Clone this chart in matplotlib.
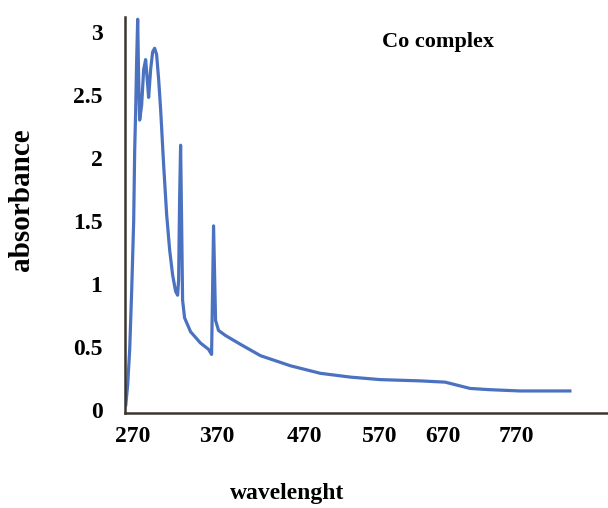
import matplotlib.pyplot as plt

# wavelength (nm) and absorbance
wl = [261, 263.5, 266.1, 268.7, 271.3, 272.6, 273.9, 275.2, 276.5, 277.8,
      279.1, 281.7, 284.3, 286.9, 289.5, 290.8, 293.4, 296.0, 298.6, 301.2,
      303.9, 306.5, 310.4, 314.3, 318.2, 322.1, 326.0, 328.6, 329.9, 331.2,
      332.5, 333.8, 335.1, 337.7, 345.5, 358.5, 369.0, 372.9, 375.5, 378.1,
      382.0, 391.1, 410.6, 436.7, 475.7, 514.8, 553.8, 592.9, 645.0, 677.5,
      710.1, 736.1, 775.2, 840.3]
absb = [0.04, 0.2, 0.48, 0.95, 1.5, 2.06, 2.38, 2.78, 3.1, 2.62,
        2.3, 2.42, 2.7, 2.78, 2.58, 2.48, 2.7, 2.84, 2.87, 2.82,
        2.62, 2.38, 1.94, 1.55, 1.27, 1.07, 0.94, 0.91, 1.03, 1.67,
        2.1, 1.5, 0.87, 0.73, 0.62, 0.53, 0.48, 0.44, 1.46, 0.71,
        0.63, 0.59, 0.52, 0.43, 0.35, 0.29, 0.26, 0.24, 0.23, 0.22,
        0.17, 0.16, 0.15, 0.15]

xtick_pos = [270, 379, 494, 592, 675, 770]
xtick_lab = ['270', '370', '470', '570', '670', '770']
ytick_pos = [0, 0.5, 1, 1.5, 2, 2.5, 3]
ytick_lab = ['0', '0.5', '1', '1.5', '2', '2.5', '3']

plt.rcParams['font.family'] = 'Liberation Serif'
plt.rcParams['font.weight'] = 'bold'

fig = plt.figure(figsize=(6.08, 5.08), dpi=100)
ax = fig.add_axes([0.205, 0.187, 0.795, 0.78])
ax.plot(wl, absb, color='#4a72c0', lw=2.3)

ax.set_xlim(259.5, 890)
ax.set_ylim(-0.025, 3.12)
ax.set_xticks(xtick_pos)
ax.set_xticklabels(xtick_lab)
ax.set_yticks(ytick_pos)
ax.set_yticklabels(ytick_lab)
ax.tick_params(axis='x', length=0, pad=9, labelsize=17)
ax.tick_params(axis='y', length=0, pad=16, labelsize=17)
for s in ['top', 'right']:
    ax.spines[s].set_visible(False)
for s in ['left', 'bottom']:
    ax.spines[s].set_linewidth(1.8)
    ax.spines[s].set_color('#3a3530')

fig.text(0.035, 0.606, 'absorbance', rotation=90, ha='center', va='center',
         fontsize=21, fontweight='bold')
fig.text(0.472, 0.028, 'wavelenght', ha='center', va='center', fontsize=17, fontweight='bold')
fig.text(0.628, 0.918, 'Co complex', ha='left', va='center', fontsize=16, fontweight='bold')

fig.savefig('out.png', dpi=100)
